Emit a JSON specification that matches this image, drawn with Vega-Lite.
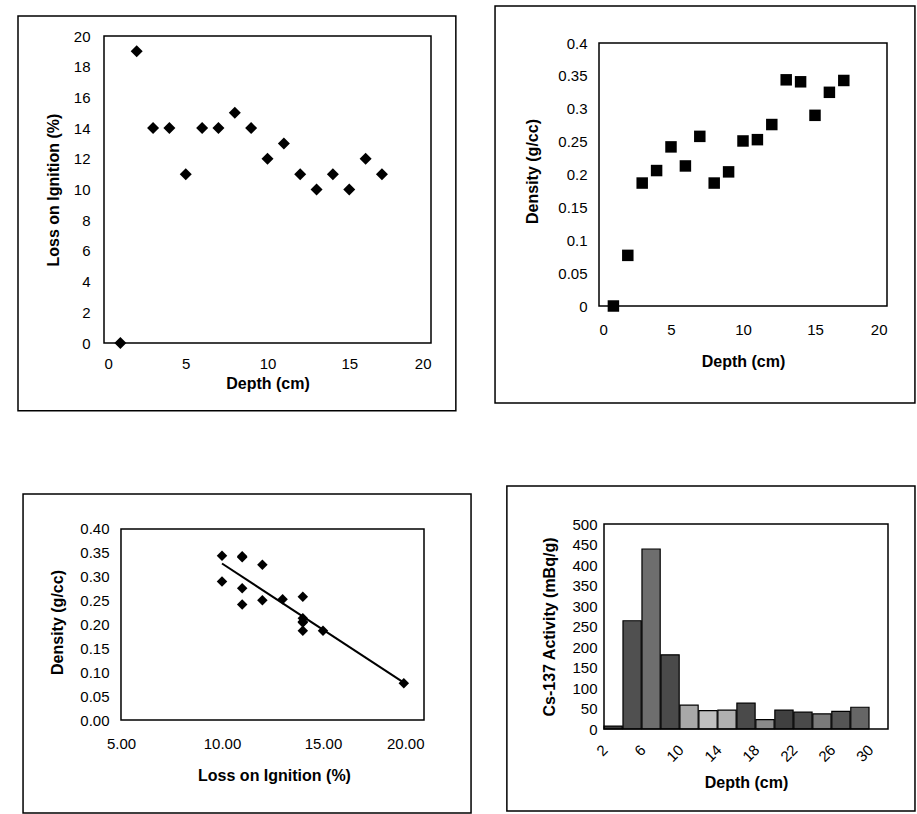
{
  "$schema": "https://vega.github.io/schema/vega-lite/v6.json",
  "padding": {"left": 17, "top": 5, "right": 0, "bottom": 0},
  "background": "white",
  "config": {
    "font": "Liberation Sans",
    "view": {"stroke": null},
    "axis": {
      "grid": false, "domain": false, "ticks": false, "labelOverlap": false,
      "labelFont": "Liberation Sans", "labelFontSize": 15, "labelColor": "#000",
      "titleFont": "Liberation Sans", "titleFontSize": 16, "titleFontWeight": "bold", "titleColor": "#000"
    }
  },
  "datasets": {
    "core": [
      {"depth": 1, "loi": 0, "density": 0},
      {"depth": 2, "loi": 19, "density": 0.077},
      {"depth": 3, "loi": 14, "density": 0.187},
      {"depth": 4, "loi": 14, "density": 0.206},
      {"depth": 5, "loi": 11, "density": 0.242},
      {"depth": 6, "loi": 14, "density": 0.213},
      {"depth": 7, "loi": 14, "density": 0.258},
      {"depth": 8, "loi": 15, "density": 0.187},
      {"depth": 9, "loi": 14, "density": 0.204},
      {"depth": 10, "loi": 12, "density": 0.251},
      {"depth": 11, "loi": 13, "density": 0.253},
      {"depth": 12, "loi": 11, "density": 0.276},
      {"depth": 13, "loi": 10, "density": 0.344},
      {"depth": 14, "loi": 11, "density": 0.341},
      {"depth": 15, "loi": 10, "density": 0.29},
      {"depth": 16, "loi": 12, "density": 0.325},
      {"depth": 17, "loi": 11, "density": 0.343}
    ],
    "cs": [
      {"depth": 2, "activity": 7},
      {"depth": 4, "activity": 264},
      {"depth": 6, "activity": 439},
      {"depth": 8, "activity": 181},
      {"depth": 10, "activity": 58},
      {"depth": 12, "activity": 45},
      {"depth": 14, "activity": 46},
      {"depth": 16, "activity": 63},
      {"depth": 18, "activity": 23},
      {"depth": 20, "activity": 46},
      {"depth": 22, "activity": 41},
      {"depth": 24, "activity": 37},
      {"depth": 26, "activity": 43},
      {"depth": 28, "activity": 53}
    ],
    "one": [{}]
  },
  "spacing": 73,
  "vconcat": [
    {
      "spacing": 37,
      "hconcat": [
        {
          "width": 327, "height": 307,
          "layer": [
            {
              "data": {"name": "core"},
              "mark": {"type": "point", "shape": "diamond", "filled": true, "color": "#000", "size": 144, "opacity": 1},
              "encoding": {
                "x": {"field": "depth", "type": "quantitative", "scale": {"domain": [0, 20]},
                  "axis": {"values": [0, 5, 10, 15, 20], "title": "Depth (cm)", "labelPadding": 13, "titlePadding": 4}},
                "y": {"field": "loi", "type": "quantitative", "scale": {"domain": [0, 20]},
                  "axis": {"values": [0, 2, 4, 6, 8, 10, 12, 14, 16, 18, 20], "title": "Loss on Ignition (%)", "labelPadding": 14, "titlePadding": 12}}
              }
            },
            {
              "data": {"name": "one"},
              "layer": [
                {
                  "mark": {"type": "rect", "fill": "transparent", "stroke": "#000", "strokeWidth": 1.5, "clip": false},
                  "encoding": {
                    "x": {"datum": -0.263, "type": "quantitative", "scale": {"domain": [0, 1], "nice": false, "zero": false}, "axis": null},
                    "x2": {"datum": 1.076},
                    "y": {"datum": -0.221, "type": "quantitative", "scale": {"domain": [0, 1], "nice": false, "zero": false}, "axis": null},
                    "y2": {"datum": 1.065}
                  }
                },
                {
                  "mark": {"type": "rect", "fill": "transparent", "stroke": "#000", "strokeWidth": 1.5, "clip": false},
                  "encoding": {
                    "x": {"datum": 0, "type": "quantitative"},
                    "x2": {"datum": 1},
                    "y": {"datum": 0, "type": "quantitative"},
                    "y2": {"datum": 1}
                  }
                }
              ]
            }
          ],
          "resolve": {"scale": {"x": "independent", "y": "independent"}}
        },
        {
          "width": 288, "height": 270,
          "layer": [
            {
              "data": {"name": "core"},
              "mark": {"type": "point", "shape": "square", "filled": true, "color": "#000", "size": 132, "opacity": 1},
              "encoding": {
                "x": {"field": "depth", "type": "quantitative", "scale": {"domain": [0, 20]},
                  "axis": {"values": [0, 5, 10, 15, 20], "title": "Depth (cm)", "labelPadding": 16, "titlePadding": 16}},
                "y": {"field": "density", "type": "quantitative", "scale": {"domain": [0, 0.41065], "nice": false},
                  "axis": {"values": [0, 0.05, 0.1, 0.15, 0.2, 0.25, 0.3, 0.35, 0.4], "format": "~g", "title": "Density (g/cc)", "labelPadding": 12, "titlePadding": 17}}
              }
            },
            {
              "data": {"name": "one"},
              "layer": [
                {
                  "mark": {"type": "rect", "fill": "transparent", "stroke": "#000", "strokeWidth": 1.5, "clip": false},
                  "encoding": {
                    "x": {"datum": -0.361, "type": "quantitative", "scale": {"domain": [0, 1], "nice": false, "zero": false}, "axis": null},
                    "x2": {"datum": 1.097},
                    "y": {"datum": -0.359, "type": "quantitative", "scale": {"domain": [0, 1], "nice": false, "zero": false}, "axis": null},
                    "y2": {"datum": 1.111}
                  }
                },
                {
                  "mark": {"type": "rect", "fill": "transparent", "stroke": "#000", "strokeWidth": 1.5, "clip": false},
                  "encoding": {
                    "x": {"datum": 0, "type": "quantitative"},
                    "x2": {"datum": 1},
                    "y": {"datum": 0, "type": "quantitative"},
                    "y2": {"datum": 0.974}
                  }
                }
              ]
            }
          ],
          "resolve": {"scale": {"x": "independent", "y": "independent"}}
        }
      ]
    },
    {
      "spacing": 34,
      "hconcat": [
        {
          "width": 320, "height": 196,
          "layer": [
            {
              "data": {"name": "core"},
              "transform": [{"filter": "datum.depth > 1"}],
              "encoding": {
                "x": {"field": "loi", "type": "quantitative", "scale": {"domain": [4.1584, 20], "nice": false, "zero": false},
                  "axis": {"values": [5, 10, 15, 20], "format": ".2f", "title": "Loss on Ignition (%)", "titleX": 170, "labelPadding": 16, "titlePadding": 16}},
                "y": {"field": "density", "type": "quantitative", "scale": {"domain": [0, 0.41047], "nice": false},
                  "axis": {"values": [0, 0.05, 0.1, 0.15, 0.2, 0.25, 0.3, 0.35, 0.4], "format": ".2f", "title": "Density (g/cc)", "offset": -17, "labelPadding": 12, "titlePadding": 14}}
              },
              "layer": [
                {
                  "mark": {"type": "point", "shape": "diamond", "filled": true, "color": "#000", "size": 110, "opacity": 1}
                },
                {
                  "transform": [{"regression": "density", "on": "loi"}],
                  "mark": {"type": "line", "color": "#000", "strokeWidth": 2}
                }
              ]
            },
            {
              "data": {"name": "one"},
              "layer": [
                {
                  "mark": {"type": "rect", "fill": "transparent", "stroke": "#000", "strokeWidth": 1.5, "clip": false},
                  "encoding": {
                    "x": {"datum": -0.253, "type": "quantitative", "scale": {"domain": [0, 1], "nice": false, "zero": false}, "axis": null},
                    "x2": {"datum": 1.147},
                    "y": {"datum": -0.474, "type": "quantitative", "scale": {"domain": [0, 1], "nice": false, "zero": false}, "axis": null},
                    "y2": {"datum": 1.153}
                  }
                },
                {
                  "mark": {"type": "rect", "fill": "transparent", "stroke": "#000", "strokeWidth": 1.5, "clip": false},
                  "encoding": {
                    "x": {"datum": 0.0531, "type": "quantitative"},
                    "x2": {"datum": 1},
                    "y": {"datum": 0, "type": "quantitative"},
                    "y2": {"datum": 0.9745}
                  }
                }
              ]
            }
          ],
          "resolve": {"scale": {"x": "independent", "y": "independent"}}
        },
        {
          "width": 284, "height": 205,
          "layer": [
            {
              "data": {"name": "cs"},
              "mark": {"type": "bar", "stroke": "#000", "strokeWidth": 1.2},
              "encoding": {
                "x": {"field": "depth", "type": "ordinal",
                  "scale": {"domain": [2, 4, 6, 8, 10, 12, 14, 16, 18, 20, 22, 24, 26, 28, 30], "paddingInner": 0.04, "paddingOuter": 0},
                  "axis": {"values": [2, 6, 10, 14, 18, 22, 26, 30], "labelAngle": -45, "labelAlign": "right", "labelBaseline": "middle", "labelOffset": -8, "labelPadding": 18, "title": "Depth (cm)", "titlePadding": 10}},
                "y": {"field": "activity", "type": "quantitative", "scale": {"domain": [0, 500]},
                  "axis": {"values": [0, 50, 100, 150, 200, 250, 300, 350, 400, 450, 500], "title": "Cs-137 Activity (mBq/g)", "labelPadding": 7, "titlePadding": 14}},
                "color": {"field": "depth", "type": "ordinal", "legend": null,
                  "scale": {"domain": [2, 4, 6, 8, 10, 12, 14, 16, 18, 20, 22, 24, 26, 28],
                    "range": ["#3a3a3a", "#505050", "#6e6e6e", "#4a4a4a", "#a8a8a8", "#c0c0c0", "#b0b0b0", "#4a4a4a", "#8a8a8a", "#404040", "#4a4a4a", "#7a7a7a", "#555555", "#666666"]}}
              }
            },
            {
              "data": {"name": "one"},
              "layer": [
                {
                  "mark": {"type": "rect", "fill": "transparent", "stroke": "#000", "strokeWidth": 1.5, "clip": false},
                  "encoding": {
                    "x": {"datum": -0.342, "type": "quantitative", "scale": {"domain": [0, 1], "nice": false, "zero": false}, "axis": null},
                    "x2": {"datum": 1.095},
                    "y": {"datum": -0.4, "type": "quantitative", "scale": {"domain": [0, 1], "nice": false, "zero": false}, "axis": null},
                    "y2": {"datum": 1.185}
                  }
                },
                {
                  "mark": {"type": "rect", "fill": "transparent", "stroke": "#000", "strokeWidth": 1.5, "clip": false},
                  "encoding": {
                    "x": {"datum": 0, "type": "quantitative"},
                    "x2": {"datum": 1},
                    "y": {"datum": 0, "type": "quantitative"},
                    "y2": {"datum": 1}
                  }
                }
              ]
            }
          ],
          "resolve": {"scale": {"x": "independent", "y": "independent", "color": "independent"}}
        }
      ]
    }
  ]
}
